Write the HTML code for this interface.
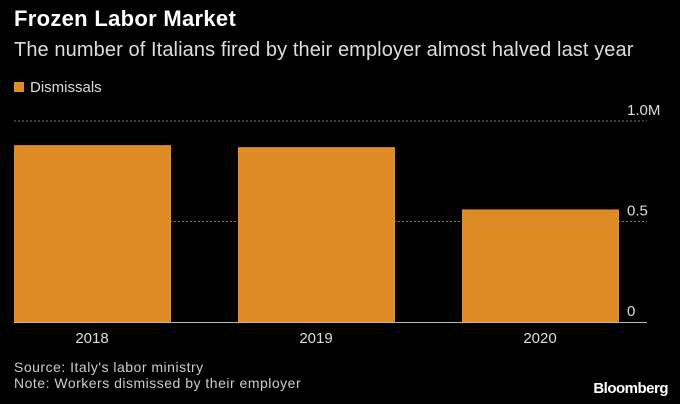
<!DOCTYPE html>
<html><head><meta charset="utf-8"><style>
body{margin:0;background:#000;width:680px;height:404px;overflow:hidden;font-family:"Liberation Sans",sans-serif;color:#fff}
.t{position:absolute;left:14px;top:6px;font-size:22px;font-weight:bold;letter-spacing:0.3px}
.s{position:absolute;left:14px;top:39px;font-size:20px;color:#ddd;letter-spacing:0.1px}
.lg{position:absolute;left:14px;top:79px;font-size:15px;color:#ddd}
.lg i{display:inline-block;width:10px;height:10px;background:#df8b26;margin-right:6px}
.f{position:absolute;left:14px;font-size:14px;color:#ccc;letter-spacing:0.5px}
.b{position:absolute;right:12px;top:380px;font-size:15px;font-weight:bold;letter-spacing:-0.5px}
</style></head><body>
<div class="t">Frozen Labor Market</div>
<div class="s">The number of Italians fired by their employer almost halved last year</div>
<div class="lg"><i></i>Dismissals</div>
<svg id="c" width="680" height="404" style="position:absolute;left:0;top:0"></svg>
<div class="f" style="top:359px">Source: Italy's labor ministry</div>
<div class="f" style="top:375px">Note: Workers dismissed by their employer</div>
<div class="b">Bloomberg</div>
<script>
const categories=["2018","2019","2020"];
const values=[0.88,0.87,0.56];
const ticks=[0,0.5,1.0];
const tickLabels=["0","0.5","1.0M"];
const svg=document.getElementById('c');const ns="http://www.w3.org/2000/svg";
const y=v=>322-v*201;
const bandX=i=>14+i*224;
function mk(t,a){const e=document.createElementNS(ns,t);for(const k in a)e.setAttribute(k,a[k]);svg.appendChild(e);return e;}
ticks.forEach((t,i)=>{
 if(t>0){const l=mk('line',{x1:14,x2:647,y1:y(t),y2:y(t),stroke:'#777','stroke-dasharray':'2,2','stroke-width':1});
 
 }
 const tx=mk('text',{x:627,y:y(t)-6,fill:'#ddd','font-size':15,'font-family':'Liberation Sans'});tx.textContent=tickLabels[i];
 
 
});
categories.forEach((c,i)=>{
 const r=mk('rect',{x:bandX(i),y:y(values[i]),width:157,height:y(0)-y(values[i]),fill:'#df8b26'});
 
 
 const t=mk('text',{x:bandX(i)+78,y:343,fill:'#ddd','font-size':15,'text-anchor':'middle','font-family':'Liberation Sans'});t.textContent=c;
 
 
});
const ax=mk('line',{x1:14,x2:647,y1:322.5,y2:322.5,stroke:'#bbb','stroke-width':1});


</script>
</body></html>
